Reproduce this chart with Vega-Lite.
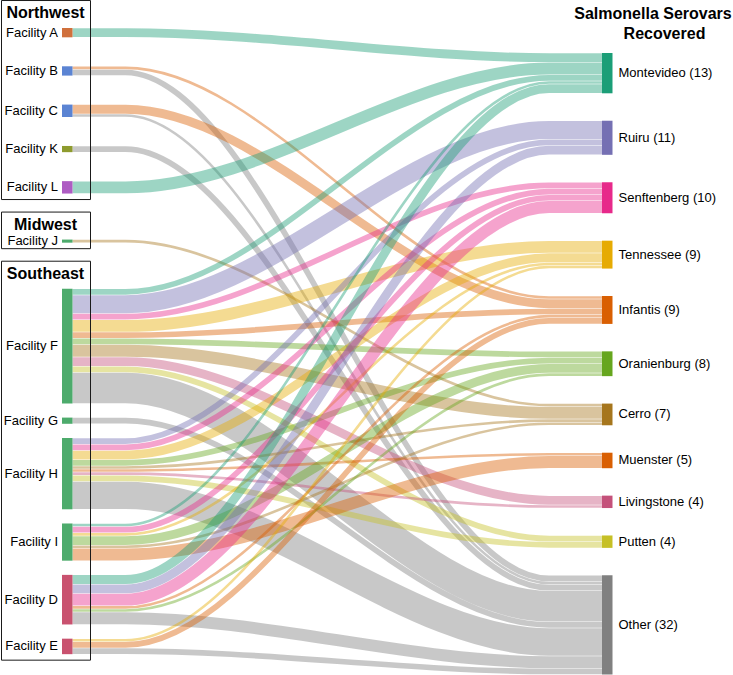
{
  "$schema": "https://vega.github.io/schema/vega-lite/v6.json",
  "width": 733,
  "height": 675,
  "autosize": "none",
  "padding": 0,
  "background": "white",
  "config": {"view": {"stroke": null}, "font": "Liberation Sans"},
  "data": {
    "values": [
      {"source": "Facility A", "target": "Montevideo", "value": 3},
      {"source": "Facility B", "target": "Infantis", "value": 1},
      {"source": "Facility B", "target": "Other", "value": 2},
      {"source": "Facility C", "target": "Infantis", "value": 3},
      {"source": "Facility C", "target": "Other", "value": 1},
      {"source": "Facility K", "target": "Other", "value": 2},
      {"source": "Facility L", "target": "Montevideo", "value": 4},
      {"source": "Facility J", "target": "Cerro", "value": 1},
      {"source": "Facility F", "target": "Montevideo", "value": 2},
      {"source": "Facility F", "target": "Ruiru", "value": 6},
      {"source": "Facility F", "target": "Senftenberg", "value": 2},
      {"source": "Facility F", "target": "Tennessee", "value": 4},
      {"source": "Facility F", "target": "Infantis", "value": 2},
      {"source": "Facility F", "target": "Oranienburg", "value": 2},
      {"source": "Facility F", "target": "Cerro", "value": 4},
      {"source": "Facility F", "target": "Livingstone", "value": 3},
      {"source": "Facility F", "target": "Putten", "value": 2},
      {"source": "Facility F", "target": "Other", "value": 10},
      {"source": "Facility G", "target": "Other", "value": 2},
      {"source": "Facility H", "target": "Ruiru", "value": 2},
      {"source": "Facility H", "target": "Senftenberg", "value": 2},
      {"source": "Facility H", "target": "Tennessee", "value": 3},
      {"source": "Facility H", "target": "Oranienburg", "value": 2},
      {"source": "Facility H", "target": "Cerro", "value": 1},
      {"source": "Facility H", "target": "Muenster", "value": 1},
      {"source": "Facility H", "target": "Livingstone", "value": 1},
      {"source": "Facility H", "target": "Putten", "value": 2},
      {"source": "Facility H", "target": "Other", "value": 9},
      {"source": "Facility I", "target": "Montevideo", "value": 1},
      {"source": "Facility I", "target": "Senftenberg", "value": 2},
      {"source": "Facility I", "target": "Tennessee", "value": 1},
      {"source": "Facility I", "target": "Oranienburg", "value": 3},
      {"source": "Facility I", "target": "Cerro", "value": 1},
      {"source": "Facility I", "target": "Muenster", "value": 4},
      {"source": "Facility D", "target": "Montevideo", "value": 3},
      {"source": "Facility D", "target": "Ruiru", "value": 3},
      {"source": "Facility D", "target": "Senftenberg", "value": 4},
      {"source": "Facility D", "target": "Infantis", "value": 1},
      {"source": "Facility D", "target": "Oranienburg", "value": 1},
      {"source": "Facility D", "target": "Other", "value": 4},
      {"source": "Facility E", "target": "Tennessee", "value": 1},
      {"source": "Facility E", "target": "Infantis", "value": 2},
      {"source": "Facility E", "target": "Other", "value": 2}
    ]
  },
  "transform": [
    {"calculate": "indexof(['Facility A','Facility B','Facility C','Facility K','Facility L','Facility J','Facility F','Facility G','Facility H','Facility I','Facility D','Facility E'], datum.source)", "as": "si"},
    {"calculate": "indexof(['Montevideo','Ruiru','Senftenberg','Tennessee','Infantis','Oranienburg','Cerro','Muenster','Livingstone','Putten','Other'], datum.target)", "as": "ti"},
    {"window": [{"op": "sum", "field": "value", "as": "cumS"}], "sort": [{"field": "si"}, {"field": "ti"}], "frame": [null, 0]},
    {"window": [{"op": "sum", "field": "value", "as": "cumT"}], "sort": [{"field": "ti"}, {"field": "si"}], "frame": [null, 0]},
    {"calculate": "datum.cumS - datum.value - 8.06 + (datum.si <= 4 ? datum.si * 9.35 : (datum.si == 5 ? 52.25 : 67.1 + (datum.si - 6) * 4.58))", "as": "srcTop"},
    {"calculate": "datum.srcTop + datum.value", "as": "srcBot"},
    {"calculate": "datum.cumT - datum.value + datum.ti * 8.85", "as": "tgtTop"},
    {"calculate": "datum.si <= 4 ? 'Northwest' : (datum.si == 5 ? 'Midwest' : 'Southeast')", "as": "region"}
  ],
  "layer": [
    {
      "transform": [
        {"calculate": "datum.srcTop + datum.value / 2", "as": "yA"},
        {"calculate": "datum.srcTop + datum.value / 2", "as": "yB"},
        {"calculate": "datum.tgtTop + datum.value / 2", "as": "yC"},
        {"calculate": "datum.tgtTop + datum.value / 2", "as": "yD"},
        {"fold": ["yA", "yB", "yC", "yD"], "as": ["k", "yy"]},
        {"calculate": "datum.k == 'yA' ? 0 : (datum.k == 'yB' ? 0.1 : (datum.k == 'yC' ? 0.9 : 1))", "as": "xx"}
      ],
      "mark": {"type": "line", "interpolate": "monotone", "strokeOpacity": 0.43, "strokeCap": "butt"},
      "encoding": {
        "x": {"field": "xx", "type": "quantitative", "scale": {"domain": [0, 1], "range": [72.5, 602], "nice": false, "zero": false}, "axis": null},
        "y": {"field": "yy", "type": "quantitative", "scale": {"domain": [0, 200.5], "range": [53, 674.5], "nice": false, "zero": false}, "axis": null},
        "detail": [{"field": "source", "type": "nominal"}, {"field": "target", "type": "nominal"}],
        "order": {"field": "xx", "type": "quantitative"},
        "color": {
          "field": "target", "type": "nominal", "legend": null,
          "scale": {
            "domain": ["Facility A","Facility B","Facility C","Facility K","Facility L","Facility J","Facility F","Facility G","Facility H","Facility I","Facility D","Facility E","Montevideo","Ruiru","Senftenberg","Tennessee","Infantis","Oranienburg","Cerro","Muenster","Livingstone","Putten","Other"],
            "range": ["#d0703c","#5b84d3","#5b84d3","#8e9b2e","#ae5cc3","#4dab6c","#4dab6c","#4dab6c","#4dab6c","#4dab6c","#c9526f","#c9526f","#1b9e77","#7570b3","#e7298a","#e6ab02","#d95f02","#66a61e","#a6761d","#d95f02","#c4517a","#c6c026","#808080"]
          }
        },
        "strokeWidth": {"field": "value", "type": "quantitative", "legend": null, "scale": {"domain": [0, 1], "range": [-0.5, 2.6], "zero": false, "nice": false}}
      }
    },
    {
      "transform": [
        {"aggregate": [{"op": "min", "field": "srcTop", "as": "top"}, {"op": "max", "field": "srcBot", "as": "bot"}], "groupby": ["region"]}
      ],
      "mark": {"type": "rect", "fillOpacity": 0, "stroke": "#1a1a1a", "strokeWidth": 1, "xOffset": -71, "x2Offset": 18, "yOffset": -27.5, "y2Offset": 6},
      "encoding": {
        "x": {"datum": 0, "type": "quantitative", "scale": {"domain": [0, 1], "range": [72.5, 602], "nice": false, "zero": false}, "axis": null},
        "x2": {"datum": 0},
        "y": {"field": "top", "type": "quantitative", "scale": {"domain": [0, 200.5], "range": [53, 674.5], "nice": false, "zero": false}, "axis": null},
        "y2": {"field": "bot"}
      }
    },
    {
      "transform": [
        {"aggregate": [{"op": "min", "field": "srcTop", "as": "top"}], "groupby": ["region"]}
      ],
      "mark": {"type": "text", "fontSize": 16, "fontWeight": "bold", "align": "center", "baseline": "alphabetic", "dx": -27, "dy": -10, "color": "black"},
      "encoding": {
        "x": {"datum": 0, "type": "quantitative", "scale": {"domain": [0, 1], "range": [72.5, 602], "nice": false, "zero": false}, "axis": null},
        "y": {"field": "top", "type": "quantitative", "scale": {"domain": [0, 200.5], "range": [53, 674.5], "nice": false, "zero": false}, "axis": null},
        "text": {"field": "region"}
      }
    },
    {
      "transform": [
        {"aggregate": [{"op": "min", "field": "srcTop", "as": "top"}, {"op": "max", "field": "srcBot", "as": "bot"}], "groupby": ["source"]},
        {"calculate": "(datum.top + datum.bot) / 2", "as": "mid"}
      ],
      "layer": [
        {
          "mark": {"type": "rect", "xOffset": -10.5},
          "encoding": {
            "x": {"datum": 0, "type": "quantitative", "scale": {"domain": [0, 1], "range": [72.5, 602], "nice": false, "zero": false}, "axis": null},
            "x2": {"datum": 0},
            "y": {"field": "top", "type": "quantitative", "scale": {"domain": [0, 200.5], "range": [53, 674.5], "nice": false, "zero": false}, "axis": null},
            "y2": {"field": "bot"},
            "color": {
              "field": "source", "type": "nominal", "legend": null,
              "scale": {
                "domain": ["Facility A","Facility B","Facility C","Facility K","Facility L","Facility J","Facility F","Facility G","Facility H","Facility I","Facility D","Facility E","Montevideo","Ruiru","Senftenberg","Tennessee","Infantis","Oranienburg","Cerro","Muenster","Livingstone","Putten","Other"],
                "range": ["#d0703c","#5b84d3","#5b84d3","#8e9b2e","#ae5cc3","#4dab6c","#4dab6c","#4dab6c","#4dab6c","#4dab6c","#c9526f","#c9526f","#1b9e77","#7570b3","#e7298a","#e6ab02","#d95f02","#66a61e","#a6761d","#d95f02","#c4517a","#c6c026","#808080"]
              }
            }
          }
        },
        {
          "mark": {"type": "text", "fontSize": 13, "align": "right", "baseline": "middle", "dx": -14.5, "color": "black"},
          "encoding": {
            "x": {"datum": 0, "type": "quantitative", "scale": {"domain": [0, 1], "range": [72.5, 602], "nice": false, "zero": false}, "axis": null},
            "y": {"field": "mid", "type": "quantitative", "scale": {"domain": [0, 200.5], "range": [53, 674.5], "nice": false, "zero": false}, "axis": null},
            "text": {"field": "source"}
          }
        }
      ]
    },
    {
      "transform": [
        {"aggregate": [{"op": "min", "field": "tgtTop", "as": "top"}, {"op": "sum", "field": "value", "as": "tot"}], "groupby": ["target"]},
        {"calculate": "datum.top + datum.tot", "as": "bot"},
        {"calculate": "datum.top + datum.tot / 2", "as": "mid"},
        {"calculate": "datum.target + ' (' + datum.tot + ')'", "as": "label"}
      ],
      "layer": [
        {
          "mark": {"type": "rect", "x2Offset": 10.5},
          "encoding": {
            "x": {"datum": 1, "type": "quantitative", "scale": {"domain": [0, 1], "range": [72.5, 602], "nice": false, "zero": false}, "axis": null},
            "x2": {"datum": 1},
            "y": {"field": "top", "type": "quantitative", "scale": {"domain": [0, 200.5], "range": [53, 674.5], "nice": false, "zero": false}, "axis": null},
            "y2": {"field": "bot"},
            "color": {
              "field": "target", "type": "nominal", "legend": null,
              "scale": {
                "domain": ["Facility A","Facility B","Facility C","Facility K","Facility L","Facility J","Facility F","Facility G","Facility H","Facility I","Facility D","Facility E","Montevideo","Ruiru","Senftenberg","Tennessee","Infantis","Oranienburg","Cerro","Muenster","Livingstone","Putten","Other"],
                "range": ["#d0703c","#5b84d3","#5b84d3","#8e9b2e","#ae5cc3","#4dab6c","#4dab6c","#4dab6c","#4dab6c","#4dab6c","#c9526f","#c9526f","#1b9e77","#7570b3","#e7298a","#e6ab02","#d95f02","#66a61e","#a6761d","#d95f02","#c4517a","#c6c026","#808080"]
              }
            }
          }
        },
        {
          "mark": {"type": "text", "fontSize": 13, "align": "left", "baseline": "middle", "dx": 16.5, "color": "black"},
          "encoding": {
            "x": {"datum": 1, "type": "quantitative", "scale": {"domain": [0, 1], "range": [72.5, 602], "nice": false, "zero": false}, "axis": null},
            "y": {"field": "mid", "type": "quantitative", "scale": {"domain": [0, 200.5], "range": [53, 674.5], "nice": false, "zero": false}, "axis": null},
            "text": {"field": "label"}
          }
        }
      ]
    },
    {
      "transform": [
        {"aggregate": [{"op": "count", "as": "n"}]}
      ],
      "mark": {"type": "text", "text": "Salmonella Serovars", "fontSize": 16, "fontWeight": "bold", "align": "center", "baseline": "alphabetic", "dx": 51, "color": "black"},
      "encoding": {
        "x": {"datum": 1, "type": "quantitative", "scale": {"domain": [0, 1], "range": [72.5, 602], "nice": false, "zero": false}, "axis": null},
        "y": {"datum": -10.97, "type": "quantitative", "scale": {"domain": [0, 200.5], "range": [53, 674.5], "nice": false, "zero": false}, "axis": null}
      }
    },
    {
      "transform": [
        {"aggregate": [{"op": "count", "as": "n"}]}
      ],
      "mark": {"type": "text", "text": "Recovered", "fontSize": 16, "fontWeight": "bold", "align": "center", "baseline": "alphabetic", "dx": 62.5, "color": "black"},
      "encoding": {
        "x": {"datum": 1, "type": "quantitative", "scale": {"domain": [0, 1], "range": [72.5, 602], "nice": false, "zero": false}, "axis": null},
        "y": {"datum": -4.42, "type": "quantitative", "scale": {"domain": [0, 200.5], "range": [53, 674.5], "nice": false, "zero": false}, "axis": null}
      }
    }
  ]
}
